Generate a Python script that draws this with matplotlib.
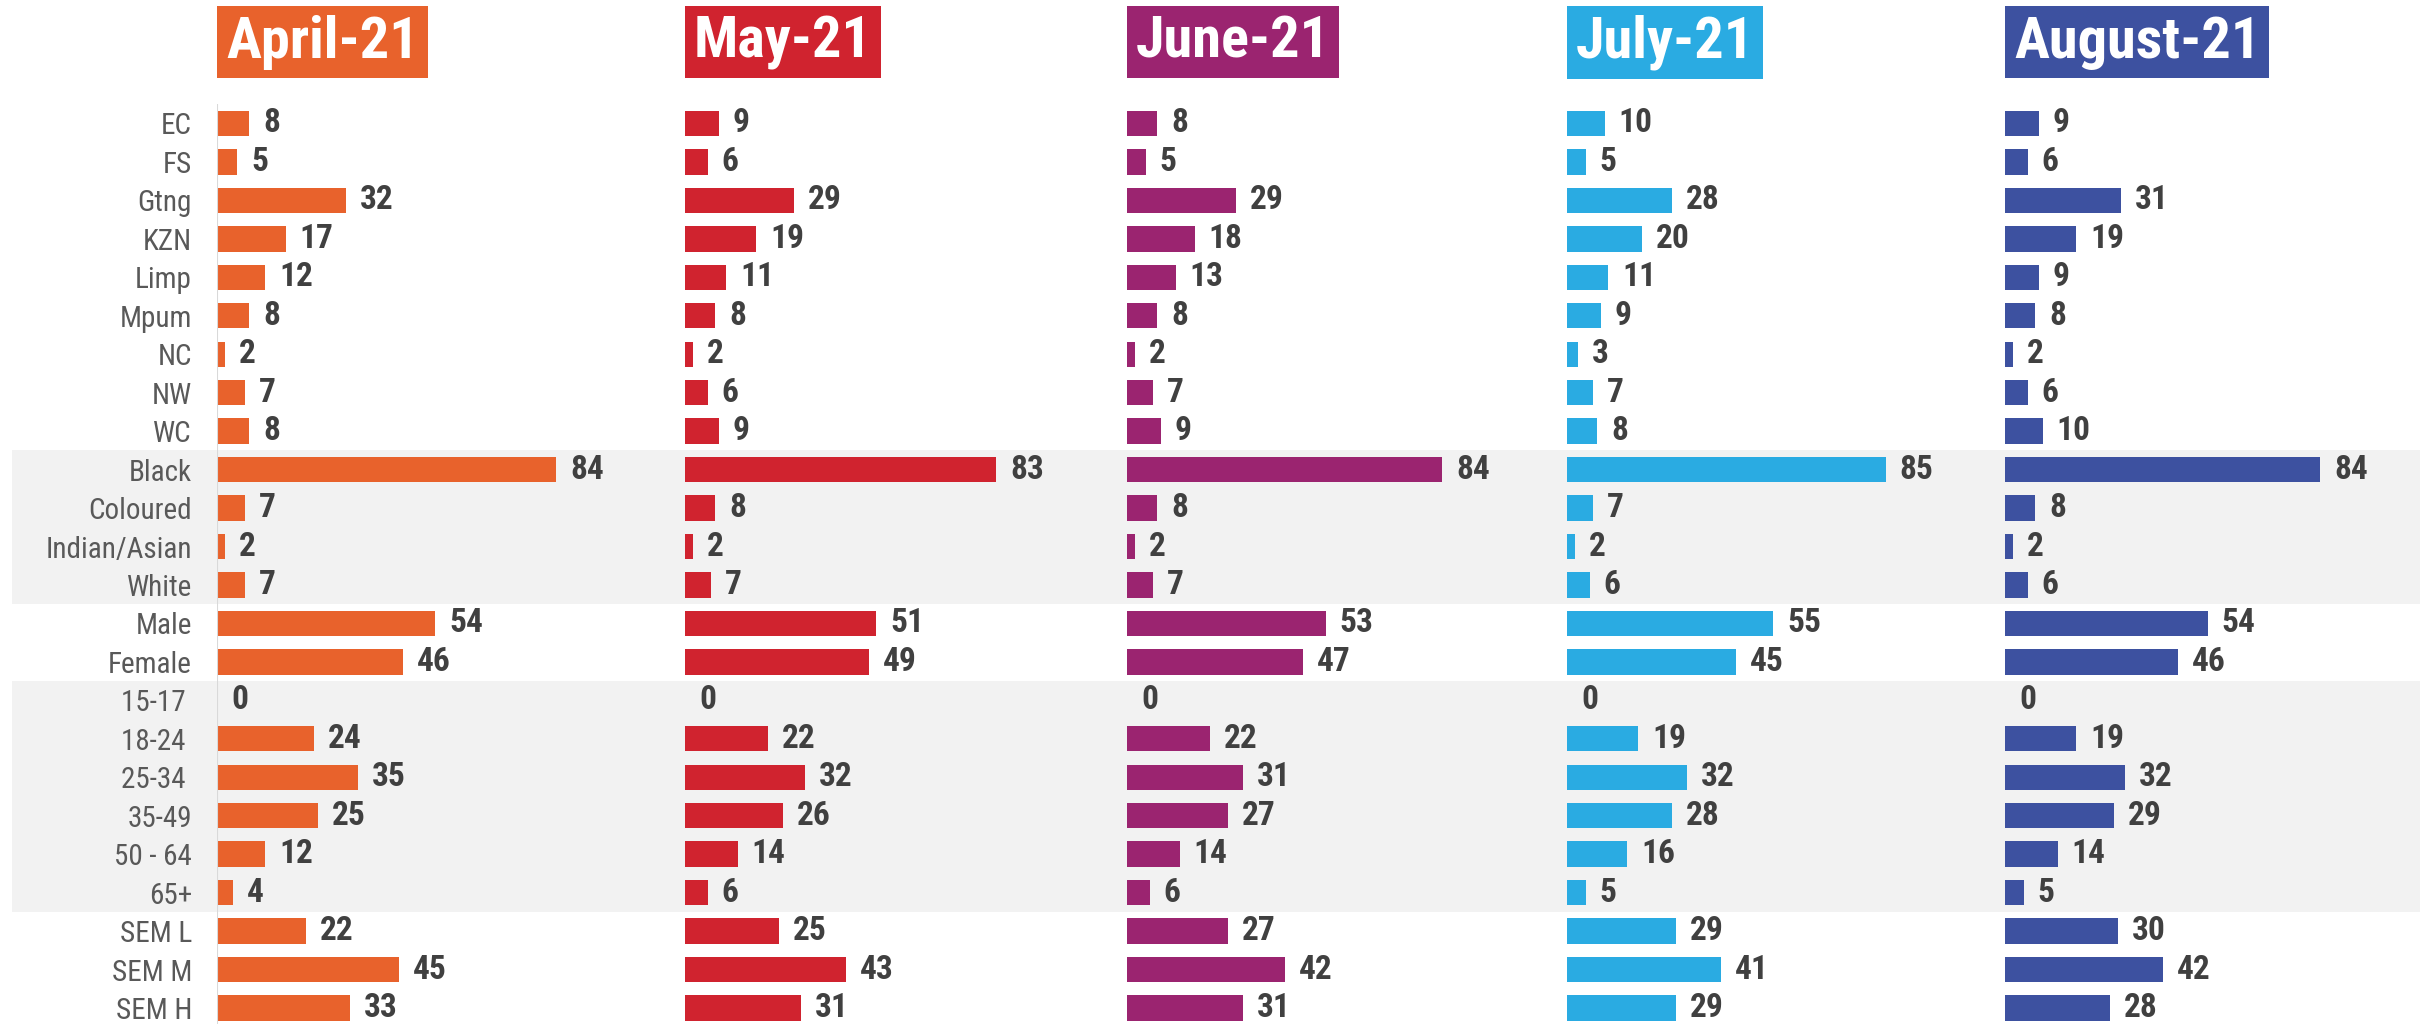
import matplotlib
matplotlib.use("Agg")
from matplotlib import pyplot as plt
from matplotlib import font_manager

# categories and monthly values (%)
cats = ["EC", "FS", "Gtng", "KZN", "Limp", "Mpum", "NC", "NW", "WC",
        "Black", "Coloured", "Indian/Asian", "White", "Male", "Female",
        "15-17 ", "18-24 ", "25-34 ", "35-49", "50 - 64", "65+",
        "SEM L", "SEM M", "SEM H"]
months = ["April-21", "May-21", "June-21", "July-21", "August-21"]
april = [8, 5, 32, 17, 12, 8, 2, 7, 8, 84, 7, 2, 7, 54, 46, 0, 24, 35, 25, 12, 4, 22, 45, 33]
may = [9, 6, 29, 19, 11, 8, 2, 6, 9, 83, 8, 2, 7, 51, 49, 0, 22, 32, 26, 14, 6, 25, 43, 31]
june = [8, 5, 29, 18, 13, 8, 2, 7, 9, 84, 8, 2, 7, 53, 47, 0, 22, 31, 27, 14, 6, 27, 42, 31]
july = [10, 5, 28, 20, 11, 9, 3, 7, 8, 85, 7, 2, 6, 55, 45, 0, 19, 32, 28, 16, 5, 29, 41, 29]
august = [9, 6, 31, 19, 9, 8, 2, 6, 10, 84, 8, 2, 6, 54, 46, 0, 19, 32, 29, 14, 5, 30, 42, 28]
series = [april, may, june, july, august]
colors = ["#E8622C", "#D0232F", "#9B2470", "#2AABE2", "#3D51A0"]

# pick a narrow font if one is around
have = {f.name for f in font_manager.fontManager.ttflist}
FONT, STRETCH = "DejaVu Sans", "condensed"
for cand in ["Liberation Sans Narrow", "Arial Narrow", "Roboto Condensed", "Open Sans Condensed"]:
    if cand in have:
        FONT, STRETCH = cand, "normal"
        break

W, H = 2420, 1024
fig = plt.figure(figsize=(24.2, 10.24), dpi=100)

# layout in pixels
row0, rowN = 123.5, 1008.0
step = (rowN - row0) / (len(cats) - 1)
top_px = row0 - step / 2
bot_px = rowN + step / 2
ax_bottom = 1 - bot_px / H
ax_height = (bot_px - top_px) / H
n = len(cats)

# background bands
bg = fig.add_axes([0, ax_bottom, 1, ax_height])
bg.set_xlim(0, 1)
bg.set_ylim(n - 0.5, -0.5)
bg.axhspan(8.5, 12.5, xmin=12 / W, xmax=1, color="#F2F2F2", lw=0)
bg.axhspan(14.5, 20.5, xmin=12 / W, xmax=1, color="#F2F2F2", lw=0)
bg.axis("off")

starts = [217, 685, 1127, 1567, 2005]
scales = [4.04, 3.75, 3.75, 3.75, 3.75]
ax_w = 400

for i, (vals, col) in enumerate(zip(series, colors)):
    ax = fig.add_axes([starts[i] / W, ax_bottom, ax_w / W, ax_height])
    ax.patch.set_alpha(0)
    ax.barh(range(n), vals, height=0.66, color=col)
    ax.set_xlim(0, ax_w / scales[i])
    ax.set_ylim(n - 0.5, -0.5)
    for j, v in enumerate(vals):
        ax.annotate(str(v), (v, j), xytext=(10, 0), textcoords="offset points",
                    ha="left", va="center", fontsize=24, fontweight="bold",
                    color="#404040", family=FONT, fontstretch=STRETCH)
    for s in ax.spines.values():
        s.set_visible(False)
    ax.set_xticks([])
    if i == 0:
        ax.axvline(0, color="#D9D9D9", lw=1.5)
        ax.set_yticks(range(n))
        ax.set_yticklabels(cats, fontsize=21, color="#595959", family=FONT,
                           fontstretch=STRETCH)
        ax.tick_params(axis="y", length=0, pad=18)
    else:
        ax.set_yticks([])
    # month header
    fig.text((starts[i] + 9) / W, 1 - 42 / H, months[i], ha="left", va="center",
             fontsize=42, fontweight="bold", color="white", family=FONT,
             fontstretch=STRETCH,
             bbox=dict(boxstyle="square,pad=0.15", fc=col, ec="none"))

plt.savefig("out.png", dpi=100)
